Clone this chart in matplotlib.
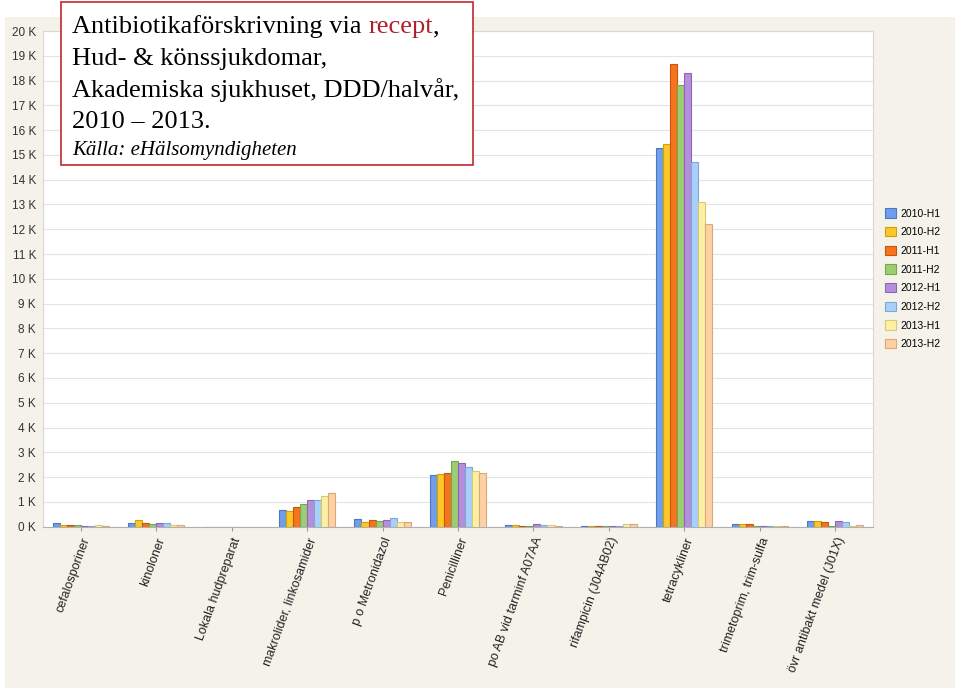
import matplotlib
matplotlib.use("Agg")
import matplotlib.pyplot as plt
import numpy as np
from matplotlib.patches import Rectangle
from matplotlib.ticker import FuncFormatter, MultipleLocator

categories = ["cefalosporiner", "kinoloner", "Lokala hudpreparat", "makrolider, linkosamider",
              "p o Metronidazol", "Penicilliner", "po AB vid tarminf A07AA",
              "rifampicin (J04AB02)", "tetracykliner", "trimetoprim, trim-sulfa",
              "övr antibakt medel (J01X)"]
series = ["2010-H1", "2010-H2", "2011-H1", "2011-H2", "2012-H1", "2012-H2", "2013-H1", "2013-H2"]

# values in DDD (per half year), one list per series, in category order
v_2010_H1 = [160, 140, 0, 670, 320, 2100, 50, 20, 15290, 120, 250]
v_2010_H2 = [80, 280, 0, 620, 190, 2110, 60, 20, 15460, 120, 220]
v_2011_H1 = [80, 160, 0, 790, 280, 2150, 20, 20, 18660, 90, 170]
v_2011_H2 = [70, 100, 0, 930, 250, 2660, 20, 20, 17820, 20, 10]
v_2012_H1 = [30, 160, 0, 1060, 280, 2580, 90, 30, 18300, 10, 250]
v_2012_H2 = [30, 140, 0, 1090, 340, 2420, 70, 40, 14720, 10, 170]
v_2013_H1 = [70, 60, 0, 1240, 190, 2250, 60, 90, 13120, 10, 10]
v_2013_H2 = [40, 50, 0, 1350, 190, 2170, 30, 100, 12220, 10, 60]
values = [v_2010_H1, v_2010_H2, v_2011_H1, v_2011_H2, v_2012_H1, v_2012_H2, v_2013_H1, v_2013_H2]

colors = ["#6f9eea", "#fbc82a", "#f7741e", "#9dcc72", "#b68fdc", "#a8d0fb", "#fdf0a2", "#fdd1a4"]
edges = ["#4a78c4", "#d4a000", "#c8560a", "#74a84c", "#8e66b8", "#7ea8d4", "#d8c878", "#d8a878"]

fig = plt.figure(figsize=(9.59, 6.91), dpi=100)
fig.patch.set_facecolor("white")
bg = Rectangle((5/959, 3/691), 950/959, 671/691, transform=fig.transFigure,
               facecolor="#f5f2ea", edgecolor="none", zorder=-10)
fig.add_artist(bg)

ax = fig.add_axes([43/959, 1-526.7/691, 830/959, (526.7-31)/691])
ax.set_zorder(1)
ax.set_facecolor("white")
x = np.arange(len(categories))
bw = 0.093
for i, (vals, c, e, s) in enumerate(zip(values, colors, edges, series)):
    ax.bar(x + (i - 3.5) * bw, vals, width=bw, color=c, edgecolor=e, linewidth=0.8, label=s, zorder=3)

ax.set_xlim(-0.5, len(categories) - 0.5)
ax.set_ylim(0, 20000)
ax.yaxis.set_major_locator(MultipleLocator(1000))
ax.yaxis.set_major_formatter(FuncFormatter(lambda v, p: f"{int(round(v/1000))} K"))
ax.grid(axis="y", color="#e4e4e4", linewidth=0.8, zorder=0)
ax.set_axisbelow(True)
for sp in ax.spines.values():
    sp.set_color("#d8d8d8")
    sp.set_linewidth(0.8)
ax.spines["bottom"].set_color("#b0b0b0")
ax.tick_params(axis="y", length=0, labelsize=8.5, labelcolor="#333333", pad=5)
ax.tick_params(axis="x", length=3, color="#999999", labelsize=9, labelcolor="#222222")
for lab in ax.get_yticklabels():
    lab.set_fontfamily("Liberation Sans")
ax.set_xticks(x)
ax.set_xticklabels(categories, rotation=70, ha="right", rotation_mode="anchor",
                   fontfamily="Liberation Sans")

handles, labels = ax.get_legend_handles_labels()
leg = fig.legend(handles, labels, loc="upper left", bbox_to_anchor=(876/959, 1-199/691),
                 frameon=False, prop={"family": "Liberation Sans", "size": 7.5},
                 handlelength=1.0, handleheight=1.0, handletextpad=0.4, labelspacing=0.81)
leg.set_zorder(5)

# title box
box = Rectangle((61/959, 1-165/691), 412/959, 163/691, transform=fig.transFigure,
                facecolor="white", edgecolor="#c0282d", linewidth=1.2, zorder=10)
fig.add_artist(box)
tx = 72/959
fs = 19
fam = "Liberation Serif"
y1 = 1-33/691
t1 = fig.text(tx, y1, "Antibiotikaförskrivning via ", fontsize=fs, family=fam,
              va="baseline", zorder=11)
fig.canvas.draw()
bb = t1.get_window_extent()
t2 = fig.text(bb.x1/fig.bbox.width, y1, "recept", fontsize=fs, family=fam, color="#b0202a",
              va="baseline", zorder=11)
fig.canvas.draw()
bb2 = t2.get_window_extent()
fig.text(bb2.x1/fig.bbox.width, y1, ",", fontsize=fs, family=fam, va="baseline", zorder=11)
fig.text(tx, 1-65/691, "Hud- & könssjukdomar,", fontsize=fs, family=fam, va="baseline", zorder=11)
fig.text(tx, 1-97/691, "Akademiska sjukhuset, DDD/halvår,", fontsize=fs, family=fam, va="baseline", zorder=11)
fig.text(tx, 1-128/691, "2010 – 2013.", fontsize=fs, family=fam, va="baseline", zorder=11)
fig.text(tx, 1-155/691, "Källa: eHälsomyndigheten", fontsize=15, family=fam, style="italic",
         va="baseline", zorder=11)

fig.savefig("out.png", dpi=100, facecolor=fig.get_facecolor())
